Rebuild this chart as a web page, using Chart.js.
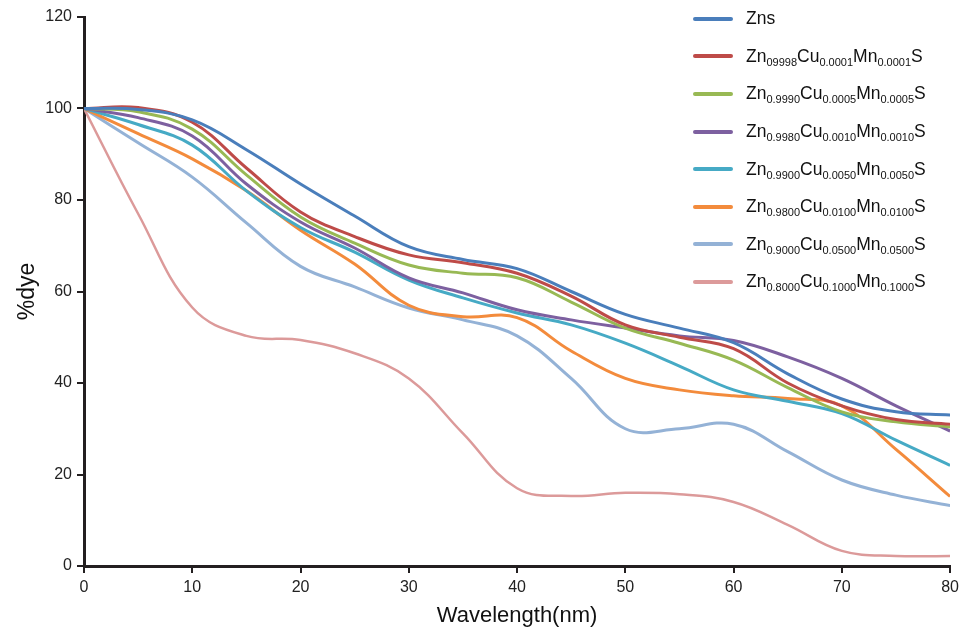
<!DOCTYPE html>
<html>
<head>
  <title>%dye vs Wavelength</title>
  <script src="https://cdn.jsdelivr.net/npm/chart.js"></script>
  <style>
    body { margin: 0; background: #fff; }
    #wrap { position: relative; width: 964px; height: 631px; }
    #legend { position: absolute; left: 693px; top: 0px; font-family: "Liberation Sans", Arial, sans-serif; color: #111; }
    .row { height: 37.6px; display: flex; align-items: center; white-space: nowrap; font-size: 17.5px; }
    .row .swatch { width: 40px; height: 4px; border-radius: 2px; margin-right: 13px; }
    .row sub { font-size: 11px; vertical-align: -4px; line-height: 0; }
  </style>
</head>
<body>
  <div id="wrap">
    <canvas id="chart" width="964" height="631"></canvas>
    <div id="legend"></div>
  </div>

  <script>
    const wavelength = [0, 5, 10, 15, 20, 25, 30, 35, 40, 45, 50, 55, 60, 65, 70, 75, 80];

    const zns     = [100, 99.8, 97.5, 91, 83.5, 76.5, 69.8, 67, 65, 60, 55, 52, 48.8, 42, 36.5, 33.7, 33];
    const s0001   = [100, 100.2, 97, 87, 77.4, 72, 68, 66.3, 64, 59, 52.7, 50, 47.5, 40, 35, 32, 31];
    const s0005   = [100, 99.3, 95.5, 85.5, 76.3, 70.6, 65.8, 64, 63, 57.7, 52, 48.7, 45, 39, 33.7, 31.5, 30.4];
    const s0010   = [100, 98, 94, 83.5, 75.2, 69.5, 63, 59.7, 56, 53.8, 52, 50.3, 49.3, 45.7, 41, 35, 29.5];
    const s0050   = [100, 96.5, 92, 82, 74, 68.6, 62.5, 58.6, 55.3, 52.7, 48.7, 43.7, 38.5, 36, 33.3, 27.5, 22];
    const s0100   = [100, 94.5, 89, 82, 73.4, 66, 57, 54.5, 54.3, 47, 41, 38.5, 37.2, 36.6, 35, 25.5, 15.2];
    const s0500   = [100, 92.5, 85, 75, 65.5, 61, 56.4, 53.8, 50.3, 41, 30, 30, 31, 25, 18.8, 15.5, 13.2];
    const s1000   = [100, 77, 56.5, 50.3, 49.4, 46.5, 41, 29, 17, 15.3, 16, 15.7, 14, 9, 3.3, 2.2, 2.2];

    // legend names: [base, sub] pieces
    const names = [
      [["Zns", ""]],
      [["Zn", "09998"], ["Cu", "0.0001"], ["Mn", "0.0001"], ["S", ""]],
      [["Zn", "0.9990"], ["Cu", "0.0005"], ["Mn", "0.0005"], ["S", ""]],
      [["Zn", "0.9980"], ["Cu", "0.0010"], ["Mn", "0.0010"], ["S", ""]],
      [["Zn", "0.9900"], ["Cu", "0.0050"], ["Mn", "0.0050"], ["S", ""]],
      [["Zn", "0.9800"], ["Cu", "0.0100"], ["Mn", "0.0100"], ["S", ""]],
      [["Zn", "0.9000"], ["Cu", "0.0500"], ["Mn", "0.0500"], ["S", ""]],
      [["Zn", "0.8000"], ["Cu", "0.1000"], ["Mn", "0.1000"], ["S", ""]]
    ];
    const series = [zns, s0001, s0005, s0010, s0050, s0100, s0500, s1000];
    const colors = ["#4a7ebb", "#be4b48", "#98b954", "#7d60a0", "#46aac5", "#f38b3c", "#94b2d6", "#dc9a9a"];

    const yTicks = [0, 20, 40, 60, 80, 100, 120];
    const xTicks = [0, 10, 20, 30, 40, 50, 60, 70, 80];

    const tickFont = { family: '"Liberation Sans Narrow", "Liberation Sans", Arial', size: 16 };

    const chart = new Chart(document.getElementById("chart"), {
      type: "line",
      data: {
        datasets: series.map((s, i) => ({
          label: names[i].map(p => p[0] + p[1]).join(""),
          data: s.map((v, j) => ({ x: wavelength[j], y: v })),
          borderColor: colors[i],
          borderWidth: i === 7 ? 2.5 : 3,
          pointRadius: 0,
          tension: 0.4,
          fill: false
        }))
      },
      options: {
        responsive: false,
        animation: false,
        layout: { padding: { top: 17, right: 13, left: 0, bottom: 0 } },
        plugins: { legend: { display: false }, tooltip: { enabled: false } },
        scales: {
          x: {
            type: "linear",
            min: 0, max: 80,
            afterBuildTicks: s => { s.ticks = xTicks.map(v => ({ value: v })); },
            afterFit: s => { s.height = 65; },
            border: { color: "#231f20", width: 3 },
            grid: { drawOnChartArea: false, color: "#231f20", lineWidth: 2, tickLength: 7 },
            ticks: { color: "#222", font: tickFont, padding: 5, maxRotation: 0 },
            title: {
              display: true, text: "Wavelength(nm)", color: "#111",
              font: { family: '"Liberation Sans Narrow", "Liberation Sans", Arial', size: 22 },
              padding: { top: 0, bottom: 2 }
            }
          },
          y: {
            min: 0, max: 120,
            afterBuildTicks: s => { s.ticks = yTicks.map(v => ({ value: v })); },
            afterFit: s => { s.width = 84; },
            border: { color: "#231f20", width: 3 },
            grid: { drawOnChartArea: false, color: "#231f20", lineWidth: 2, tickLength: 7 },
            ticks: { color: "#222", font: tickFont, padding: 5 },
            title: {
              display: true, text: "%dye", color: "#111",
              font: { family: '"Liberation Sans", Arial', size: 23 },
              padding: { top: 14, bottom: 0 }
            }
          }
        }
      }
    });

    // html legend with subscripts
    const legend = document.getElementById("legend");
    chart.data.datasets.forEach((ds, i) => {
      const row = document.createElement("div");
      row.className = "row";
      const sw = document.createElement("span");
      sw.className = "swatch";
      sw.style.background = ds.borderColor;
      row.appendChild(sw);
      const txt = document.createElement("span");
      txt.innerHTML = names[i].map(p => p[0] + (p[1] ? "<sub>" + p[1] + "</sub>" : "")).join("");
      row.appendChild(txt);
      legend.appendChild(row);
    });
  </script>
</body>
</html>
